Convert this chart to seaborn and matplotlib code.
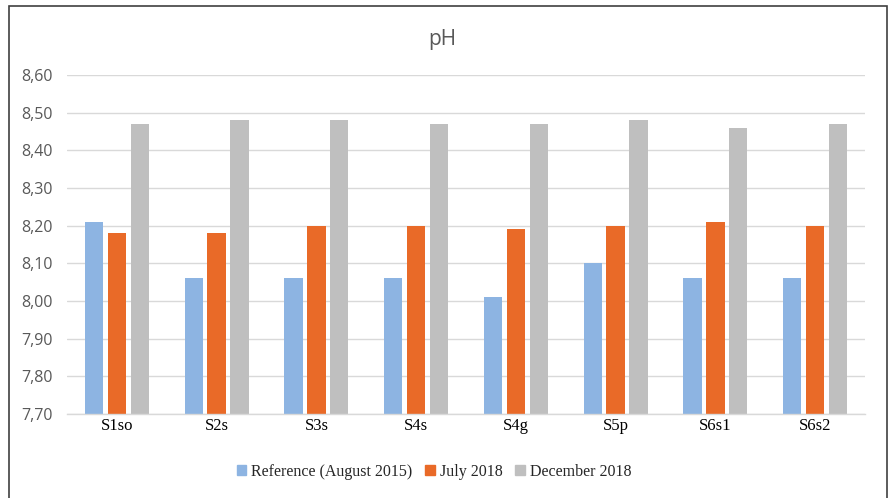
import matplotlib
matplotlib.use("Agg")
import matplotlib.pyplot as plt
import matplotlib.patches as mpatches
import matplotlib.ticker as mticker
import seaborn as sns
import pandas as pd

categories = ["S1so", "S2s", "S3s", "S4s", "S4g", "S5p", "S6s1", "S6s2"]
series_names = ["Reference (August 2015)", "July 2018", "December 2018"]
reference_2015 = [8.21, 8.06, 8.06, 8.06, 8.01, 8.10, 8.06, 8.06]
july_2018 = [8.18, 8.18, 8.20, 8.20, 8.19, 8.20, 8.21, 8.20]
december_2018 = [8.47, 8.48, 8.48, 8.47, 8.47, 8.48, 8.46, 8.47]
colors = ["#8DB4E2", "#E96A28", "#BFBFBF"]

rows = []
for name, vals in zip(series_names, [reference_2015, july_2018, december_2018]):
    for c, v in zip(categories, vals):
        rows.append({"Site": c, "Series": name, "pH": v})
df = pd.DataFrame(rows)

sns.set_theme(style="white")
fig = plt.figure(figsize=(8.88, 4.98), dpi=100)
ax = fig.add_axes([67/888, 1-414/498, (865-67)/888, (414-75)/498])

sns.barplot(data=df, x="Site", y="pH", hue="Series", order=categories,
            hue_order=series_names, palette=colors, width=0.69, gap=0.2,
            saturation=1, ax=ax, legend=False, bottom=0)

# bars start at 7.70 (the axis floor)
for p in ax.patches:
    h = p.get_height()
    p.set_y(7.70)
    p.set_height(h - 7.70)
    p.set_edgecolor("none")

ax.set_ylim(7.70, 8.60)
ax.set_xlim(-0.5, len(categories) - 0.5)
ax.yaxis.set_major_locator(mticker.MultipleLocator(0.1))
ax.yaxis.set_major_formatter(mticker.FuncFormatter(lambda v, p: f"{v:.2f}".replace(".", ",")))
ax.grid(axis="y", color="#D9D9D9", linewidth=1.0)
ax.set_axisbelow(True)
for s in ["top", "right", "left"]:
    ax.spines[s].set_visible(False)
ax.spines["bottom"].set_color("#D9D9D9")
ax.spines["bottom"].set_linewidth(1.0)
ax.set_xlabel("")
ax.set_ylabel("")
ax.tick_params(axis="y", length=0, pad=10, labelsize=11.5, labelcolor="#595959")
ax.tick_params(axis="x", length=0, pad=3, labelsize=12, labelcolor="#000000")
for lbl in ax.get_yticklabels():
    lbl.set_fontfamily("Open Sans")
for lbl in ax.get_xticklabels():
    lbl.set_fontfamily("Liberation Serif")

fig.text(442/888, 1-40/498, "pH", ha="center", va="center", fontsize=15,
         color="#595959", fontfamily="Open Sans")

handles = [mpatches.Patch(color=c, label=n) for c, n in zip(colors, series_names)]
fig.legend(handles=handles, loc="center", bbox_to_anchor=(434/888, 1-472/498),
           ncol=3, frameon=False, prop={"family": "Liberation Serif", "size": 11.5},
           handlelength=0.6, handleheight=0.6, handletextpad=0.3, columnspacing=0.8)

border = mpatches.Rectangle((9/888, -0.05), (887-9)/888, 1.05 - 6/498,
                            transform=fig.transFigure, fill=False,
                            edgecolor="#404040", linewidth=1.2)
fig.patches.append(border)

fig.savefig("out.png", dpi=100)
